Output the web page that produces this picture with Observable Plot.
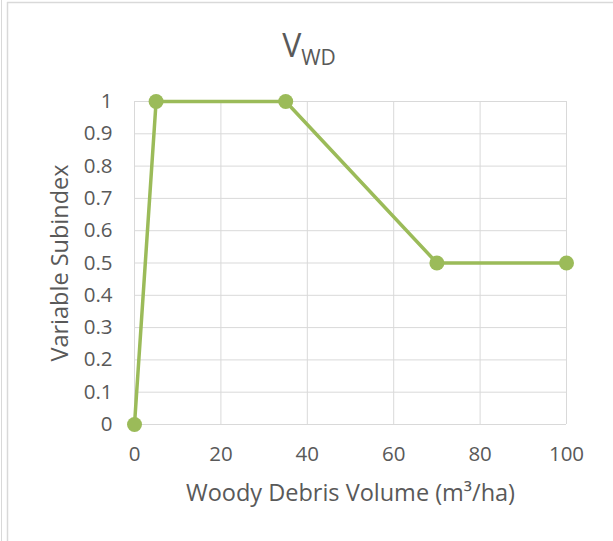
<!DOCTYPE html>
<html>
<head>
<meta charset="utf-8">
<script src="https://cdn.jsdelivr.net/npm/d3@7"></script>
<script src="https://cdn.jsdelivr.net/npm/@observablehq/plot@0.6"></script>
<style>
  html, body { margin: 0; padding: 0; background: #fff; }
  #chart { position: relative; width: 613px; height: 541px; }
  svg { font-family: "Open Sans", sans-serif; }
</style>
</head>
<body>
<div id="chart"></div>
<script>
const volume = [0, 5, 35, 70, 100];
const subindex = [0, 1, 1, 0.5, 0.5];
const xTicks = [0, 20, 40, 60, 80, 100];
const yTicks = [0, 0.1, 0.2, 0.3, 0.4, 0.5, 0.6, 0.7, 0.8, 0.9, 1];
const yTickLabels = ["0", "0.1", "0.2", "0.3", "0.4", "0.5", "0.6", "0.7", "0.8", "0.9", "1"];
const titleMain = "V";
const titleSub = "WD";
const xLabel = "Woody Debris Volume (m³/ha)";
const yLabel = "Variable Subindex";

const data = volume.map((v, i) => ({x: v, y: subindex[i]}));
const green = "#9bbb59";
const textColor = "#595959";
const gridColor = "#d9d9d9";

const plot = Plot.plot({
  width: 613,
  height: 541,
  marginLeft: 134,
  marginRight: 47,
  marginTop: 101,
  marginBottom: 117,
  style: {fontFamily: "Open Sans, sans-serif", fontSize: "21px", color: textColor, background: "#fff"},
  x: {domain: [0, 100]},
  y: {domain: [0, 1]},
  marks: [
    Plot.gridX(xTicks, {stroke: gridColor, strokeOpacity: 1, strokeWidth: 1}),
    Plot.gridY(yTicks, {stroke: gridColor, strokeOpacity: 1, strokeWidth: 1}),
    Plot.axisX(xTicks, {tickSize: 0, tickPadding: 22, label: null, fill: textColor, fontSize: 20.5}),
    Plot.axisY(yTicks, {tickSize: 0, tickPadding: 22, label: null, fill: textColor, fontSize: 20.5,
      tickFormat: d => yTickLabels[yTicks.indexOf(d)]}),
    Plot.line(data, {x: "x", y: "y", stroke: green, strokeWidth: 3.5}),
    Plot.dot(data, {x: "x", y: "y", fill: green, r: 7.5, stroke: "none"}),
    Plot.text([xLabel], {frameAnchor: "bottom", textAnchor: "middle", dy: 76, text: d => d, fill: textColor, fontSize: 23.5}),
    Plot.text([yLabel], {frameAnchor: "left", textAnchor: "middle", dx: -74, rotate: -90, text: d => d, fill: textColor, fontSize: 23.5})
  ]
});

document.getElementById("chart").appendChild(plot);

const svg = d3.select(plot);
// border lines of the chart area
svg.append("line").attr("x1", 1.5).attr("x2", 1.5).attr("y1", 0).attr("y2", 541).attr("stroke", gridColor).attr("stroke-width", 1);
svg.append("line").attr("x1", 7.5).attr("x2", 7.5).attr("y1", 2).attr("y2", 541).attr("stroke", gridColor).attr("stroke-width", 1.5);
svg.append("line").attr("x1", 7).attr("x2", 613).attr("y1", 2.5).attr("y2", 2.5).attr("stroke", gridColor).attr("stroke-width", 1.5);

// title with subscript
const t = svg.append("text")
  .attr("x", 309).attr("y", 57)
  .attr("text-anchor", "middle")
  .attr("fill", textColor)
  .style("font-family", "Open Sans, sans-serif");
t.append("tspan").attr("font-size", 32).text(titleMain);
t.append("tspan").attr("font-size", 21).attr("dy", 8).text(titleSub);
</script>
</body>
</html>
